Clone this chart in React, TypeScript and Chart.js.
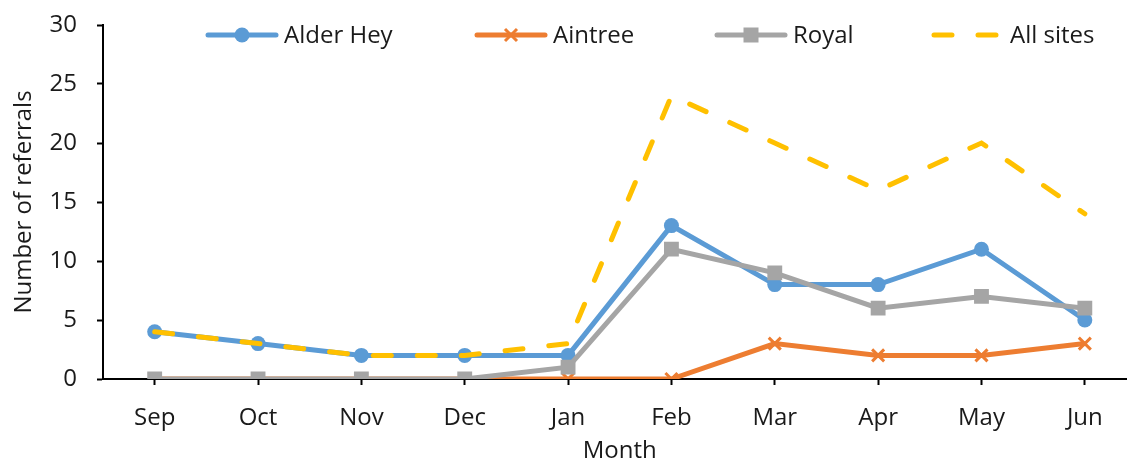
import React, { useEffect, useRef } from "react";
import { Chart, registerables } from "chart.js";

Chart.register(...registerables);

const months = ["Sep", "Oct", "Nov", "Dec", "Jan", "Feb", "Mar", "Apr", "May", "Jun"];
const alderHey = [4, 3, 2, 2, 2, 13, 8, 8, 11, 5];
const aintree = [0, 0, 0, 0, 0, 0, 3, 2, 2, 3];
const royal = [0, 0, 0, 0, 1, 11, 9, 6, 7, 6];
const allSites = [4, 3, 2, 2, 3, 24, 20, 16, 20, 14];
const yTicks = [0, 5, 10, 15, 20, 25, 30];

const seriesNames = ["Alder Hey", "Aintree", "Royal", "All sites"];
const BLUE = "#5B9BD5";
const ORANGE = "#ED7D31";
const GREY = "#A5A5A5";
const GOLD = "#FFC000";
const FONT = "'Open Sans', sans-serif";
const TEXT = "#1a1a1a";
const FS = 24;
const LW = 5;

const legendPlugin = {
  id: "customLegend",
  afterDatasetsDraw(chart: any) {
    const ctx = chart.ctx;
    const y = 35;
    const starts = [206, 475, 715, 932];
    const lineLen = 72;
    const colors = [BLUE, ORANGE, GREY, GOLD];
    ctx.save();
    ctx.font = `${FS}px ${FONT}`;
    ctx.textBaseline = "middle";
    ctx.textAlign = "left";
    seriesNames.forEach((name, i) => {
      const x0 = starts[i];
      const c = colors[i];
      ctx.strokeStyle = c;
      ctx.lineWidth = LW;
      ctx.lineCap = "round";
      if (i === 3) {
        ctx.setLineDash([18, 26]);
        ctx.beginPath();
        ctx.moveTo(x0 + 2, y);
        ctx.lineTo(x0 + lineLen, y);
        ctx.stroke();
        ctx.setLineDash([]);
      } else {
        ctx.beginPath();
        ctx.moveTo(x0 + 2, y);
        ctx.lineTo(x0 + lineLen - 2, y);
        ctx.stroke();
        const cx = x0 + lineLen / 2;
        if (i === 0) {
          ctx.fillStyle = c;
          ctx.beginPath();
          ctx.arc(cx, y, 7.5, 0, Math.PI * 2);
          ctx.fill();
        } else if (i === 1) {
          ctx.lineWidth = 3;
          ctx.lineCap = "butt";
          const d = 6;
          ctx.beginPath();
          ctx.moveTo(cx - d, y - d);
          ctx.lineTo(cx + d, y + d);
          ctx.moveTo(cx + d, y - d);
          ctx.lineTo(cx - d, y + d);
          ctx.stroke();
        } else {
          ctx.fillStyle = c;
          ctx.fillRect(cx - 7.5, y - 7.5, 15, 15);
        }
      }
      ctx.fillStyle = TEXT;
      ctx.fillText(name, x0 + lineLen + 6, y + 1);
    });
    ctx.restore();
  },
};

export default function App() {
  const ref = useRef<HTMLCanvasElement | null>(null);

  useEffect(() => {
    if (!ref.current) return;
    const chart = new Chart(ref.current, {
      type: "line",
      data: {
        labels: months,
        datasets: [
          {
            label: seriesNames[0],
            data: alderHey,
            borderColor: BLUE,
            backgroundColor: BLUE,
            borderWidth: LW,
            pointStyle: "circle",
            pointRadius: 7.5,
            pointBorderWidth: 0,
            order: 3,
          },
          {
            label: seriesNames[1],
            data: aintree,
            borderColor: ORANGE,
            backgroundColor: ORANGE,
            borderWidth: LW,
            pointStyle: "crossRot",
            pointRadius: 8.5,
            pointBorderWidth: 3,
            order: 2,
          },
          {
            label: seriesNames[2],
            data: royal,
            borderColor: GREY,
            backgroundColor: GREY,
            borderWidth: LW,
            pointStyle: "rect",
            pointRadius: 10.5,
            pointBorderWidth: 0,
            order: 1,
          },
          {
            label: seriesNames[3],
            data: allSites,
            borderColor: GOLD,
            backgroundColor: GOLD,
            borderWidth: LW,
            borderDash: [18, 26],
            borderCapStyle: "round",
            pointRadius: 0,
            order: 0,
          },
        ],
      },
      options: {
        responsive: false,
        animation: false,
        layout: { padding: { top: 25, left: 8, right: 4, bottom: 0 } },
        plugins: {
          legend: { display: false },
          tooltip: { enabled: false },
        },
        scales: {
          x: {
            type: "category",
            offset: true,
            grid: {
              display: true,
              drawOnChartArea: false,
              drawTicks: true,
              tickLength: 6,
              tickWidth: 2,
              tickColor: "#000",
              offset: false,
            },
            border: { display: true, color: "#000", width: 2 },
            ticks: {
              color: TEXT,
              font: { family: FONT, size: FS },
              padding: 19,
              maxRotation: 0,
              autoSkip: false,
            },
            title: {
              display: true,
              text: "Month",
              color: TEXT,
              font: { family: FONT, size: FS },
              padding: { top: 0, bottom: 0 },
            },
            afterFit: (scale: any) => {
              scale.height = 466 - 379;
              scale.paddingLeft = 0;
              scale.paddingRight = 0;
            },
          },
          y: {
            type: "linear",
            min: 0,
            max: 30,
            afterBuildTicks: (scale: any) => {
              scale.ticks = yTicks.map((v) => ({ value: v }));
            },
            grid: {
              display: true,
              drawOnChartArea: false,
              drawTicks: true,
              tickLength: 6,
              tickWidth: 2,
              tickColor: "#000",
            },
            border: { display: true, color: "#000", width: 2 },
            ticks: {
              color: TEXT,
              font: { family: FONT, size: FS },
              padding: 20,
            },
            title: {
              display: true,
              text: "Number of referrals",
              color: TEXT,
              font: { family: FONT, size: FS },
              padding: { top: 2, bottom: 0 },
            },
            afterFit: (scale: any) => {
              scale.width = 103 - 8;
              scale.paddingTop = 0;
              scale.paddingBottom = 0;
            },
          },
        },
      },
      plugins: [legendPlugin],
    });
    return () => chart.destroy();
  }, []);

  return (
    <div
      style={{
        position: "fixed",
        left: 0,
        top: 0,
        width: 1127,
        height: 460,
        overflow: "hidden",
        background: "#fff",
      }}
    >
      <canvas ref={ref} width={1148} height={466} style={{ display: "block" }} />
    </div>
  );
}
